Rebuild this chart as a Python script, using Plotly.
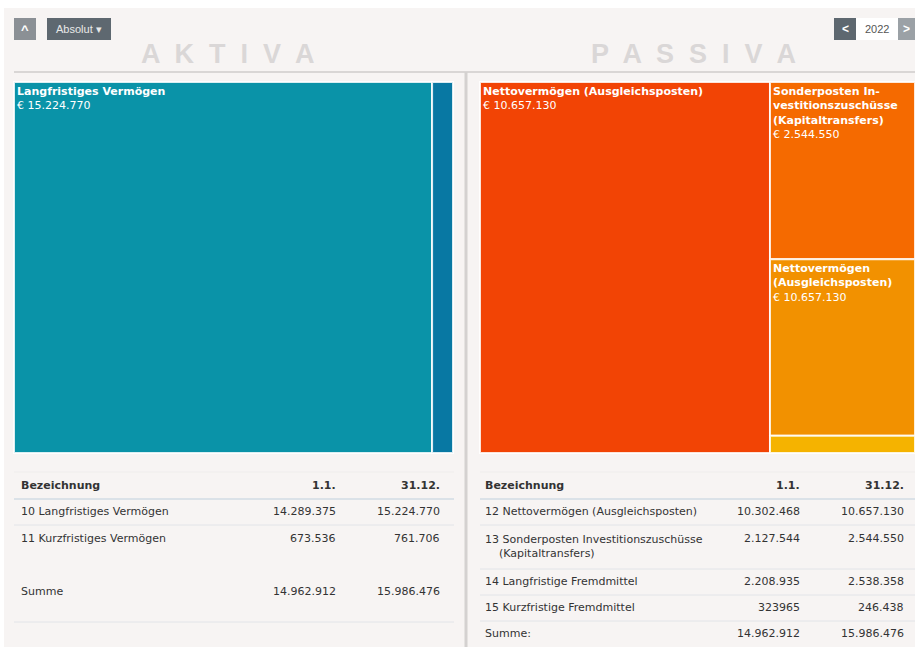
import plotly.graph_objects as go

W, H = 915, 647

# ---------------- data ----------------
aktiva_labels = ["Langfristiges Vermögen", "Kurzfristiges Vermögen"]
aktiva_values = [15224770, 761706]
aktiva_colors = ["#0a93a8", "#0878a3"]

passiva_labels = ["Nettovermögen (Ausgleichsposten)",
                  "Sonderposten In-<br>vestitionszuschüsse<br>(Kapitaltransfers)",
                  "Nettovermögen<br>(Ausgleichsposten)",
                  "Kurzfristige Fremdmittel"]
passiva_values = [10657130, 2544550, 2538358, 246438]
passiva_shown = [10657130, 2544550, 10657130, 246438]
passiva_colors = ["#f24405", "#f56a00", "#f29100", "#f5b300"]

aktiva_rows = ["10 Langfristiges Vermögen", "11 Kurzfristiges Vermögen"]
aktiva_11 = ["14.289.375", "673.536"]
aktiva_3112 = ["15.224.770", "761.706"]
aktiva_sum = ["14.962.912", "15.986.476"]

passiva_rows = ["12 Nettovermögen (Ausgleichsposten)",
                "13 Sonderposten Investitionszuschüsse<br>    (Kapitaltransfers)",
                "14 Langfristige Fremdmittel",
                "15 Kurzfristige Fremdmittel"]
passiva_11 = ["10.302.468", "2.127.544", "2.208.935", "323965"]
passiva_3112 = ["10.657.130", "2.544.550", "2.538.358", "246.438"]
passiva_sum = ["14.962.912", "15.986.476"]

FONT = "DejaVu Sans"
TXT = "#333333"


def fmt(v):
    return "{:,}".format(v).replace(",", ".")


def px(x):
    return min(max(x / W, 0), 1)


def py(y):
    return min(max(1 - y / H, 0), 1)


fig = go.Figure()


def treemap(labels, values, shown, colors, x0, x1, prefix):
    ids = [f"{prefix}{i}" for i in range(len(labels))]
    tmpl = []
    for v in values:
        tmpl.append("<b>%{label}</b><br>€ %{customdata}" if v / sum(values) > 0.1 else "")
    fig.add_trace(go.Treemap(
        ids=ids, labels=labels, parents=[""] * len(labels), values=values,
        customdata=[fmt(s) for s in shown],
        texttemplate=tmpl, textposition="top left",
        textfont=dict(family=FONT, size=11, color="white"),
        marker=dict(colors=colors, line=dict(color="rgba(255,255,255,0.85)", width=2), pad=dict(t=0, l=0, r=0, b=0)),
        tiling=dict(packing="squarify", pad=0),
        sort=True, pathbar=dict(visible=False),
        hoverinfo="label+value",
        domain=dict(x=[px(x0), px(x1)], y=[py(453), py(82)]),
    ))


treemap(aktiva_labels, aktiva_values, aktiva_values, aktiva_colors, 14, 453, "a")
treemap(passiva_labels, passiva_values, passiva_shown, passiva_colors, 480, 915, "p")

shapes = []
ann = []

# background
shapes.append(dict(type="rect", xref="paper", yref="paper", x0=px(4), x1=1, y0=0, y1=py(8),
                   fillcolor="#f7f4f3", line=dict(width=0), layer="below"))
# divider lines
shapes.append(dict(type="line", xref="paper", yref="paper", x0=px(14), x1=1, y0=py(72), y1=py(72),
                   line=dict(color="#d9d6d5", width=2)))
shapes.append(dict(type="line", xref="paper", yref="paper", x0=px(466), x1=px(466), y0=0, y1=py(72),
                   line=dict(color="#d4d1d0", width=3)))

# top controls
def btn(x0, x1, color, text, tcolor="white", size=11):
    shapes.append(dict(type="rect", xref="paper", yref="paper", x0=px(x0), x1=px(x1), y0=py(40), y1=py(18),
                       fillcolor=color, line=dict(width=0)))
    ann.append(dict(xref="paper", yref="paper", x=px((x0 + x1) / 2), y=py(29), text=text, showarrow=False,
                    xanchor="center", yanchor="middle", font=dict(family="Liberation Sans", size=size, color=tcolor)))

btn(14, 36, "#8b9095", "<b>^</b>", size=13)
btn(47, 111, "#5e6870", "Absolut ▾", tcolor="#e8e8e8", size=11)
btn(834, 856, "#5e6870", "<b>&lt;</b>", size=12)
btn(856, 898, "#ffffff", "2022", tcolor="#555555", size=11)
btn(898, 915, "#9ba1a6", "<b>&gt;</b>", size=12)

# big titles
for cx, t in [(228, "A  K  T  I  V  A"), (693, "P  A  S  S  I  V  A")]:
    ann.append(dict(xref="paper", yref="paper", x=px(cx), y=py(54), text=f"<b>{t}</b>", showarrow=False,
                    xanchor="center", yanchor="middle",
                    font=dict(family="Liberation Sans", size=27, color="#dad7d7")))


def text(x, y, t, anchor="left", bold=False):
    xx = x - 2 if anchor == "left" else x + 2
    ann.append(dict(xref="paper", yref="paper", x=px(xx), y=py(y), text=f"<b>{t}</b>" if bold else t,
                    showarrow=False, xanchor=anchor, yanchor="middle", align="left",
                    font=dict(family=FONT, size=11, color=TXT)))


def hline(x0, x1, y, color="#e2e4e8", w=1):
    shapes.append(dict(type="line", xref="paper", yref="paper", x0=px(x0), x1=px(x1), y0=py(y), y1=py(y),
                       line=dict(color=color, width=w)))

# Aktiva table
hline(14, 454, 472, "#efedec")
text(21, 485, "Bezeichnung", bold=True)
text(336, 485, "1.1.", "right", True)
text(440, 485, "31.12.", "right", True)
hline(14, 454, 499, "#dbe2e8", 2)
ay = [511, 538]
for i, r in enumerate(aktiva_rows):
    text(21, ay[i], r)
    text(336, ay[i], aktiva_11[i], "right")
    text(440, ay[i], aktiva_3112[i], "right")
hline(14, 454, 525)
text(21, 591, "Summe")
text(336, 591, aktiva_sum[0], "right")
text(440, 591, aktiva_sum[1], "right")
hline(14, 454, 622)

# Passiva table
hline(480, 915, 472, "#efedec")
text(485, 485, "Bezeichnung", bold=True)
text(800, 485, "1.1.", "right", True)
text(904, 485, "31.12.", "right", True)
hline(480, 915, 499, "#dbe2e8", 2)
pyv = [511, 546, 581, 607]
for i, r in enumerate(passiva_rows):
    yy = pyv[i]
    text(485, yy, r)
    text(800, 538 if i == 1 else yy, passiva_11[i], "right")
    text(904, 538 if i == 1 else yy, passiva_3112[i], "right")
for yl in [525, 569, 595, 621]:
    hline(480, 915, yl)
text(485, 633, "Summe:")
text(800, 633, passiva_sum[0], "right")
text(904, 633, passiva_sum[1], "right")

fig.update_layout(
    width=W, height=H, margin=dict(l=0, r=0, t=0, b=0),
    paper_bgcolor="white", plot_bgcolor="white",
    shapes=shapes, annotations=ann, showlegend=False,
    uniformtext=dict(minsize=11, mode="show"),
)

fig.write_html("out.html")
